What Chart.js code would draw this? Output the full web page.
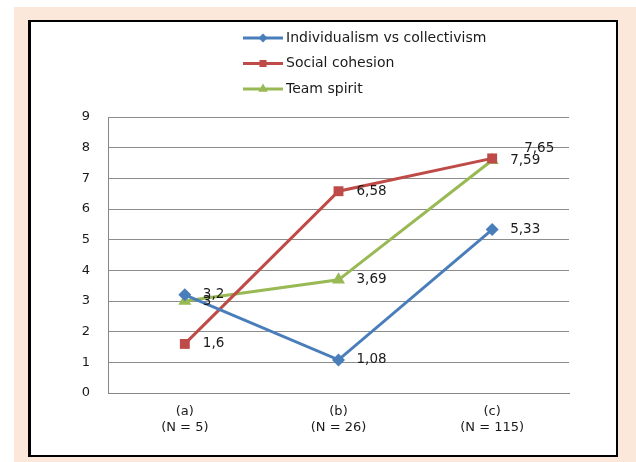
<!DOCTYPE html>
<html>
<head>
<meta charset="utf-8">
<script src="https://cdn.jsdelivr.net/npm/chart.js@4/dist/chart.umd.min.js"></script>
<style>
  body { margin: 0; background: #fff; }
  #fond { position: absolute; left: 14px; top: 7px; width: 622px; height: 455px; background: #fce8da; }
  #cadre { position: absolute; left: 28px; top: 20px; width: 585px; height: 433px; border: 2px solid #000; border-left-width: 3px; background: #fff; }
  #cadre canvas { position: absolute; left: 0; top: 0; }
</style>
</head>
<body>
<div id="fond"></div>
<div id="cadre"><canvas id="graphique" width="585" height="433"></canvas></div>
<script>
// Données
const categories = [['(a)', '(N = 5)'], ['(b)', '(N = 26)'], ['(c)', '(N = 115)']];
const individualisme = [3.2, 1.08, 5.33];
const cohesion = [1.6, 6.58, 7.65];
const espritEquipe = [3, 3.69, 7.59];
const graduations = [0, 1, 2, 3, 4, 5, 6, 7, 8, 9];

const bleu = '#4a7ebb';
const rouge = '#be4b48';
const vert = '#98b954';
const texte = '#1a1a1a';

// Étiquettes de valeurs à droite de chaque point (format avec virgule)
const etiquettes = {
  id: 'etiquettes',
  afterDatasetsDraw(chart) {
    const ctx = chart.ctx;
    ctx.save();
    ctx.font = '13.5px "DejaVu Sans"';
    ctx.fillStyle = texte;
    ctx.textBaseline = 'middle';
    chart.data.datasets.forEach((ds, i) => {
      chart.getDatasetMeta(i).data.forEach((pt, j) => {
        const dec = (ds.decalages && ds.decalages[j]) || [0, 0];
        const txt = String(ds.data[j]).replace('.', ',');
        ctx.fillText(txt, pt.x + 18 + dec[0], pt.y + dec[1]);
      });
    });
    ctx.restore();
  }
};

// Légende verticale avec trait et marqueur
const legende = {
  id: 'legende',
  afterDraw(chart) {
    const ctx = chart.ctx;
    ctx.save();
    chart.data.datasets.forEach((ds, i) => {
      const y = 16 + i * 25.5;
      ctx.strokeStyle = ds.borderColor;
      ctx.lineWidth = 3;
      ctx.beginPath();
      ctx.moveTo(212, y);
      ctx.lineTo(252, y);
      ctx.stroke();
      ctx.fillStyle = ds.borderColor;
      Chart.helpers.drawPoint(ctx, { pointStyle: ds.pointStyle, radius: ds.pointRadius - 2, borderWidth: 0 }, 232, y);
      ctx.fillStyle = texte;
      ctx.font = '14px "DejaVu Sans"';
      ctx.textBaseline = 'middle';
      ctx.fillText(ds.label, 255, y);
    });
    ctx.restore();
  }
};

const config = {
  type: 'line',
  data: {
    labels: categories,
    datasets: [
      {
        label: 'Individualism vs collectivism',
        data: individualisme,
        borderColor: bleu,
        backgroundColor: bleu,
        pointStyle: 'rectRot',
        pointRadius: 6.5
      },
      {
        label: 'Social cohesion',
        data: cohesion,
        borderColor: rouge,
        backgroundColor: rouge,
        pointStyle: 'rect',
        pointRadius: 7,
        decalages: [null, null, [14, -10]]
      },
      {
        label: 'Team spirit',
        data: espritEquipe,
        borderColor: vert,
        backgroundColor: vert,
        pointStyle: 'triangle',
        pointRadius: 7.5
      }
    ]
  },
  options: {
    responsive: false,
    animation: false,
    layout: { padding: { top: 95, right: 47, left: 0, bottom: 0 } },
    elements: {
      line: { borderWidth: 3, tension: 0 },
      point: { borderWidth: 0 }
    },
    plugins: {
      legend: { display: false },
      tooltip: { enabled: false }
    },
    scales: {
      x: {
        offset: true,
        grid: { display: false, drawTicks: false },
        border: { color: '#868686', width: 1 },
        ticks: {
          padding: 11,
          color: texte,
          font: { family: 'DejaVu Sans', size: 13 },
          maxRotation: 0
        },
        afterFit(scale) { scale.height = 62; }
      },
      y: {
        min: 0,
        max: 9,
        afterBuildTicks(scale) { scale.ticks = graduations.map(v => ({ value: v })); },
        grid: { color: '#8c8c8c', drawTicks: false },
        border: { color: '#868686', width: 1 },
        ticks: {
          padding: 18,
          color: texte,
          font: { family: 'DejaVu Sans', size: 13 }
        },
        afterFit(scale) { scale.width = 77; }
      }
    }
  },
  plugins: [etiquettes, legende]
};

new Chart(document.getElementById('graphique').getContext('2d'), config);
</script>
</body>
</html>
